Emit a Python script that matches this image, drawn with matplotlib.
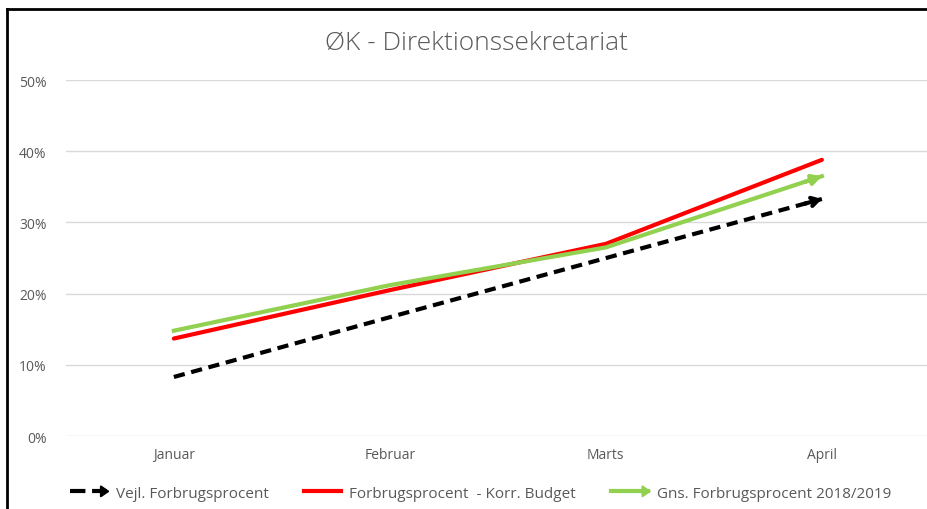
import matplotlib
matplotlib.use("Agg")
import matplotlib.pyplot as plt
from matplotlib.lines import Line2D
from matplotlib.legend_handler import HandlerLine2D
from matplotlib.patches import FancyArrowPatch
from matplotlib.ticker import PercentFormatter

# data
months = ['Januar', 'Februar', 'Marts', 'April']
vejl = [0.083, 0.167, 0.250, 0.333]
korr = [0.137, 0.205, 0.270, 0.388]
gns = [0.148, 0.212, 0.265, 0.365]

title = 'ØK - Direktionssekretariat'
labels = ['Vejl. Forbrugsprocent', 'Forbrugsprocent  - Korr. Budget',
          'Gns. Forbrugsprocent 2018/2019']

plt.rcParams['font.family'] = ['Open Sans', 'DejaVu Sans']
text_col = '#595959'
green = '#92d050'


class ArrowHandler(HandlerLine2D):
    # legend line with an arrow head at the right end
    def create_artists(self, legend, orig_handle, xdescent, ydescent,
                       width, height, fontsize, trans):
        y = height / 2 - ydescent
        line = Line2D([-xdescent, width - xdescent - 3], [y, y],
                      color=orig_handle.get_color(),
                      linestyle=orig_handle.get_linestyle(),
                      linewidth=orig_handle.get_linewidth())
        line.set_transform(trans)
        arts = [line]
        if getattr(orig_handle, 'arrow', False):
            arr = FancyArrowPatch((width - xdescent - 8, y), (width - xdescent + 1, y),
                                  arrowstyle='-|>,head_length=5,head_width=3.5',
                                  color=orig_handle.get_color(), lw=1.5,
                                  transform=trans)
            arts.append(arr)
        return arts


fig = plt.figure(figsize=(9.28, 5.10), dpi=100)
ax = fig.add_axes([0.071, 0.143, 0.931, 0.698])

x = list(range(len(months)))
ax.plot(x, vejl, color='black', lw=3, ls=(0, (2.7, 1.6)), solid_capstyle='butt')
ax.plot(x, korr, color='#ff0000', lw=3, solid_capstyle='round')
ax.plot(x, gns, color=green, lw=3)


def end_arrow(xs, ys, col, style):
    x0 = xs[-1] - 0.08
    y0 = ys[-1] - (ys[-1] - ys[-2]) * 0.08
    ax.annotate('', xy=(xs[-1], ys[-1]), xytext=(x0, y0),
                arrowprops=dict(arrowstyle=style, color=col, lw=3,
                                shrinkA=0, shrinkB=0))


end_arrow(x, vejl, 'black', '->,head_length=0.5,head_width=0.3')
end_arrow(x, gns, green, '-|>,head_length=0.55,head_width=0.3')

ax.set_xlim(-0.5, 3.5)
ax.set_ylim(0, 0.5)
ax.set_yticks([0, 0.1, 0.2, 0.3, 0.4, 0.5])
ax.yaxis.set_major_formatter(PercentFormatter(1.0, decimals=0))
ax.set_xticks(x)
ax.set_xticklabels(months)
ax.grid(axis='y', color='#d9d9d9', lw=1)
ax.set_axisbelow(True)
for s in ax.spines.values():
    s.set_visible(False)
ax.tick_params(length=0, labelsize=10, colors=text_col, pad=8)
ax.tick_params(axis='y', pad=14)

fig.text(0.513, 0.915, title, ha='center', va='center', fontsize=19,
         color=text_col, fontweight='light')

# legend
h1 = Line2D([], [], color='black', lw=3, ls=(0, (2, 1.3)))
h1.arrow = True
h2 = Line2D([], [], color='#ff0000', lw=3)
h2.arrow = False
h3 = Line2D([], [], color=green, lw=3)
h3.arrow = True
fig.legend([h1, h2, h3], labels, loc='center', bbox_to_anchor=(0.518, 0.031),
           ncol=3, frameon=False, fontsize=11, labelcolor=text_col,
           handlelength=2.7, handletextpad=0.3, columnspacing=2.3,
           handler_map={Line2D: ArrowHandler()})

# frame at top and left
fig.add_artist(Line2D([0.0075, 0.0075], [0, 0.98], color='black', lw=2,
                      transform=fig.transFigure))
fig.add_artist(Line2D([0.0075, 1], [0.98, 0.98], color='black', lw=2,
                      transform=fig.transFigure))

fig.savefig('out.png', dpi=100)
